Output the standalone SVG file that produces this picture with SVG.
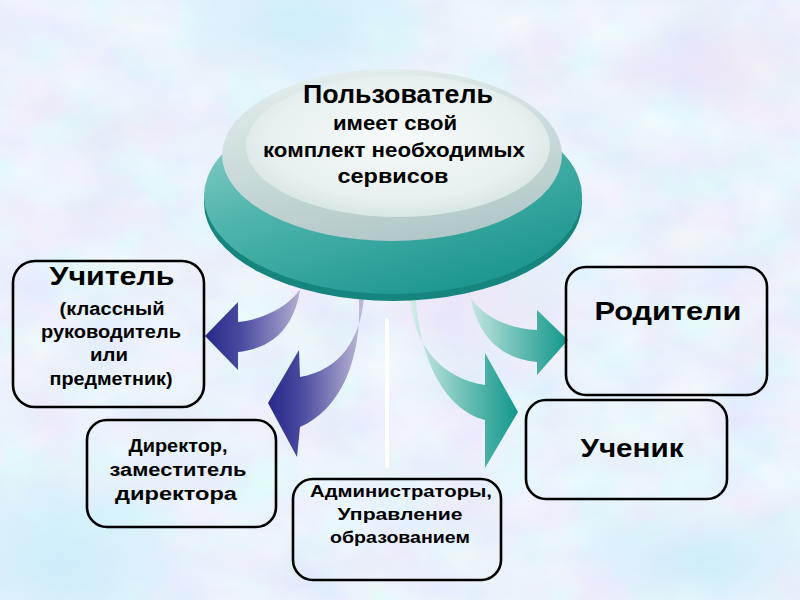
<svg xmlns="http://www.w3.org/2000/svg" width="800" height="600" viewBox="0 0 800 600">
<defs>
<style>
.box{fill:none;stroke:#000;stroke-width:2.6}
.t{font-family:"Liberation Sans",Arial,sans-serif;font-weight:bold;fill:#000;text-anchor:middle}
</style>
<filter id="tex" x="0" y="0" width="100%" height="100%">
<feTurbulence type="fractalNoise" baseFrequency="0.014 0.02" numOctaves="4" seed="7"/>
<feColorMatrix type="matrix" values="0.24 0 0 0 0.70  0 0.2 0 0 0.79  0 0 0.08 0 0.93  0 0 0 0 1"/>
</filter>
<filter id="soft" x="-50%" y="-50%" width="200%" height="200%"><feGaussianBlur stdDeviation="2"/></filter>
<linearGradient id="gBlue" x1="0" y1="0" x2="1" y2="0">
<stop offset="0" stop-color="#28288a"/><stop offset="0.35" stop-color="#4a4aa0"/><stop offset="1" stop-color="#c0bcd8"/>
</linearGradient>
<linearGradient id="gTeal" x1="0" y1="0" x2="1" y2="0">
<stop offset="0" stop-color="#d6eee8"/><stop offset="0.6" stop-color="#5ab8ae"/><stop offset="1" stop-color="#13978b"/>
</linearGradient>
<linearGradient id="gBase" x1="0" y1="0" x2="0.6" y2="1">
<stop offset="0" stop-color="#9ad8d2"/><stop offset="0.5" stop-color="#4fb4ac"/><stop offset="1" stop-color="#1e9890"/>
</linearGradient>
<linearGradient id="gRim" x1="0.2" y1="0" x2="0.5" y2="1">
<stop offset="0" stop-color="#e4eeee"/><stop offset="1" stop-color="#b2c8c8"/>
</linearGradient>
<radialGradient id="gTop" cx="0.5" cy="0.45" r="0.6">
<stop offset="0" stop-color="#f6fafa"/><stop offset="0.7" stop-color="#e8f0f0"/><stop offset="1" stop-color="#d2e2e2"/>
</radialGradient>
<radialGradient id="gPink" cx="0.5" cy="0.5" r="0.5">
<stop offset="0" stop-color="#ecd8f2" stop-opacity="0.5"/><stop offset="1" stop-color="#ecd8f2" stop-opacity="0"/>
</radialGradient>
<radialGradient id="gCyan" cx="0.5" cy="0.5" r="0.5">
<stop offset="0" stop-color="#c6ecfa" stop-opacity="0.8"/><stop offset="1" stop-color="#c6ecfa" stop-opacity="0"/>
</radialGradient>
</defs>

<g id="background">
<rect width="800" height="600" fill="#d4e0f8"/>
<rect width="800" height="600" filter="url(#tex)"/>
<ellipse cx="60" cy="560" rx="160" ry="120" fill="url(#gCyan)"/>
<ellipse cx="300" cy="20" rx="140" ry="80" fill="url(#gCyan)"/>
<ellipse cx="700" cy="560" rx="140" ry="60" fill="url(#gCyan)"/>
<ellipse cx="720" cy="60" rx="110" ry="70" fill="url(#gPink)"/>
<ellipse cx="470" cy="300" rx="110" ry="80" fill="url(#gPink)"/>
</g>

<g id="connectors">
<path id="arrow-teacher" fill="url(#gBlue)" d="M 308 270 C 305 295, 275 318, 238 322 L 238 302 L 205 336 L 238 370 L 238 352 C 275 348, 300 325, 302 270 Z"/>
<path id="arrow-director" fill="url(#gBlue)" d="M 364 298 C 360 340, 340 370, 300 377 L 299 350 L 268 403 L 297 457 L 300 427 C 340 410, 362 360, 359 298 Z"/>
<path id="arrow-parents" fill="url(#gTeal)" d="M 462 278 C 470 310, 500 328, 537 330 L 537 310 L 568 340 L 537 375 L 537 362 C 495 358, 472 330, 468 278 Z"/>
<path id="arrow-student" fill="url(#gTeal)" d="M 410 300 C 415 345, 440 378, 485 385 L 485 353 L 518 412 L 485 468 L 485 420 C 445 410, 420 360, 416 300 Z"/>
<g id="line-admin">
<line x1="364" y1="468" x2="410" y2="468" stroke="#ffffff" stroke-width="4" filter="url(#soft)"/>
<line x1="387" y1="318" x2="387" y2="468" stroke="#ffffff" stroke-width="4"/>
</g>
</g>

<g id="node-user">
<ellipse cx="393" cy="203" rx="189" ry="98" fill="#15857e"/>
<ellipse cx="393" cy="196" rx="189" ry="98" fill="url(#gBase)"/>
<ellipse cx="392" cy="155" rx="170" ry="86" fill="url(#gRim)"/>
<ellipse cx="398" cy="146" rx="152" ry="71" fill="url(#gTop)"/>
<text class="t" x="398" y="103" font-size="25" textLength="190" lengthAdjust="spacingAndGlyphs">Пользователь</text>
<text class="t" x="395" y="130" font-size="21" textLength="124" lengthAdjust="spacingAndGlyphs">имеет свой</text>
<text class="t" x="394" y="157" font-size="21" textLength="262" lengthAdjust="spacingAndGlyphs">комплект необходимых</text>
<text class="t" x="393" y="183" font-size="21" textLength="111" lengthAdjust="spacingAndGlyphs">сервисов</text>
</g>

<g id="node-teacher">
<rect class="box" x="13" y="261" width="191" height="146" rx="22"/>
<text class="t" x="112" y="285" font-size="26" textLength="125" lengthAdjust="spacingAndGlyphs">Учитель</text>
<text class="t" x="112" y="315" font-size="18" textLength="105" lengthAdjust="spacingAndGlyphs">(классный</text>
<text class="t" x="111" y="338" font-size="18" textLength="140" lengthAdjust="spacingAndGlyphs">руководитель</text>
<text class="t" x="109" y="361" font-size="18" textLength="38" lengthAdjust="spacingAndGlyphs">или</text>
<text class="t" x="111" y="385" font-size="18" textLength="123" lengthAdjust="spacingAndGlyphs">предметник)</text>
</g>

<g id="node-director">
<rect class="box" x="87" y="420" width="189" height="107" rx="20"/>
<text class="t" x="178" y="452" font-size="18" textLength="99" lengthAdjust="spacingAndGlyphs">Директор,</text>
<text class="t" x="178" y="476" font-size="18" textLength="137" lengthAdjust="spacingAndGlyphs">заместитель</text>
<text class="t" x="176" y="500" font-size="18" textLength="122" lengthAdjust="spacingAndGlyphs">директора</text>
</g>

<g id="node-admin">
<rect class="box" x="293" y="479" width="208" height="101" rx="20"/>
<text class="t" x="401" y="497" font-size="17" textLength="182" lengthAdjust="spacingAndGlyphs">Администраторы,</text>
<text class="t" x="400" y="520" font-size="17" textLength="125" lengthAdjust="spacingAndGlyphs">Управление</text>
<text class="t" x="400" y="543" font-size="17" textLength="140" lengthAdjust="spacingAndGlyphs">образованием</text>
</g>

<g id="node-parents">
<rect class="box" x="566" y="267" width="201" height="128" rx="20"/>
<text class="t" x="668" y="320" font-size="25" textLength="147" lengthAdjust="spacingAndGlyphs">Родители</text>
</g>

<g id="node-student">
<rect class="box" x="526" y="400" width="201" height="99" rx="20"/>
<text class="t" x="632" y="457" font-size="25" textLength="103" lengthAdjust="spacingAndGlyphs">Ученик</text>
</g>
</svg>
